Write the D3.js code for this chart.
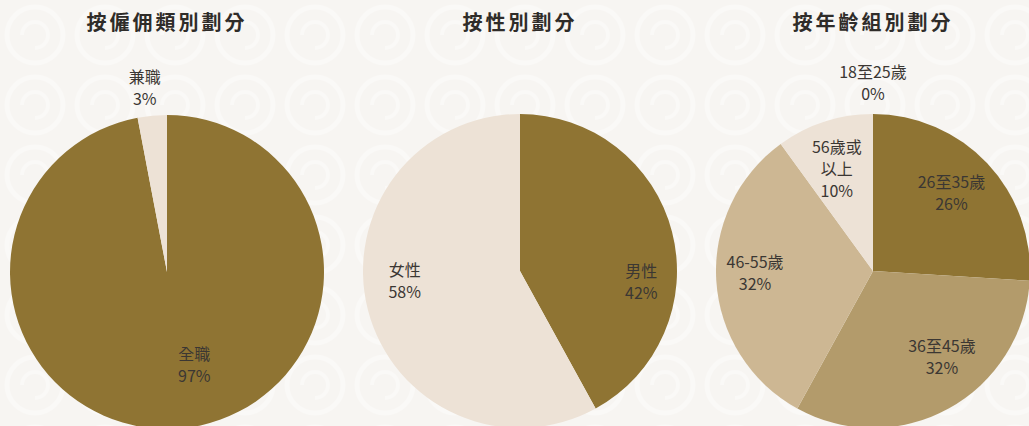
<!DOCTYPE html>
<html>
<head>
<meta charset="utf-8">
<script src="https://cdn.jsdelivr.net/npm/d3@7"></script>
<style>
  html, body { margin: 0; padding: 0; background: #f7f5f2; overflow: hidden; }
  svg { display: block; }
</style>
</head>
<body>
<div id="chart-div"></div>
<script>
// ---------------- data ----------------
const titles = ["按僱佣類別劃分", "按性別劃分", "按年齡組別劃分"]

const typeCats = ["全職", "兼職"]
const typeVals = [97, 3]

const genderCats = ["男性", "女性"]
const genderVals = [42, 58]

const ageCats = ["26至35歲", "36至45歲", "46-55歲", "56歲或\n以上", "18至25歲"]
const ageVals = [26, 32, 32, 10, 0]

// ---------------- layout ----------------
const WIDTH = 1029
const HEIGHT = 426
const RADIUS = 157
const CENTERS = [[167, 272], [520, 271], [873, 271]]
const TITLE_Y = 30

// label anchor (angle deg clockwise from top, distance from centre), per chart
const labelSpots = [
    { "全職": [164, 99], "兼職": [353, 183] },
    { "男性": [96, 122], "女性": [264, 116] },
    { "26至35歲": [46, 109], "36至45歲": [142, 112], "46-55歲": [268, 118],
      "56歲或\n以上": [340, 106], "18至25歲": [0, 186] }
]

const colorSets = [
    ["#8f7433", "#ede2d6"],
    ["#8f7433", "#ede2d6"],
    ["#8f7433", "#b39b6b", "#cdb793", "#ede2d6", "#ede2d6"]
]

const svg = d3.select("#chart-div").append("svg")
    .attr("width", WIDTH)
    .attr("height", HEIGHT)

// faint swirl pattern in the background
const defs = svg.append("defs")
const pat = defs.append("pattern")
    .attr("id", "swirl")
    .attr("width", 70).attr("height", 70)
    .attr("patternUnits", "userSpaceOnUse")
pat.append("circle").attr("cx", 35).attr("cy", 35).attr("r", 28)
    .attr("fill", "none").attr("stroke", "#ffffff").attr("stroke-width", 5)
pat.append("path").attr("d", "M35,35 m-13,0 a13,13 0 1,1 13,13")
    .attr("fill", "none").attr("stroke", "#ffffff").attr("stroke-width", 4)
svg.append("rect").attr("width", WIDTH).attr("height", HEIGHT).attr("fill", "#f7f5f2")
svg.append("rect").attr("width", WIDTH).attr("height", HEIGHT).attr("fill", "url(#swirl)")
    .attr("opacity", 0.35)

const pie = d3.pie().sort(null).value(d => d.v)
const arc = d3.arc().innerRadius(0).outerRadius(RADIUS)

const charts = [
    [typeCats, typeVals],
    [genderCats, genderVals],
    [ageCats, ageVals]
]

charts.forEach(function(c, i) {
    const data = c[0].map((name, j) => ({ name: name, v: c[1][j] }))
    const g = svg.append("g").attr("transform", `translate(${CENTERS[i][0]},${CENTERS[i][1]})`)

    const color = d3.scaleOrdinal().domain(c[0]).range(colorSets[i])

    g.selectAll("path")
        .data(pie(data).filter(d => d.data.v > 0))
        .enter()
        .append("path")
        .attr("d", arc)
        .attr("fill", d => color(d.data.name))

    // labels
    data.forEach(function(d) {
        const spot = labelSpots[i][d.name]
        const a = spot[0] * Math.PI / 180
        const x = Math.sin(a) * spot[1]
        const y = -Math.cos(a) * spot[1]
        const lines = d.name.split("\n").concat([d.v + "%"])
        const t = g.append("text")
            .attr("x", x)
            .attr("y", y - (lines.length - 1) * 11)
            .attr("text-anchor", "middle")
            .attr("dominant-baseline", "middle")
            .style("font-family", "'Noto Sans CJK TC', 'Noto Sans', sans-serif")
            .style("font-size", "16px")
            .style("fill", "#3b3733")
        lines.forEach(function(line, k) {
            t.append("tspan")
                .attr("x", x)
                .attr("dy", k == 0 ? 0 : 22)
                .text(line)
        })
    })

    svg.append("text")
        .attr("x", CENTERS[i][0])
        .attr("y", TITLE_Y)
        .attr("text-anchor", "middle")
        .style("font-family", "'Noto Sans CJK TC', sans-serif")
        .style("font-weight", "bold")
        .style("font-size", "20px")
        .style("letter-spacing", "3px")
        .style("fill", "#2f2c29")
        .text(titles[i])
})
</script>
</body>
</html>
